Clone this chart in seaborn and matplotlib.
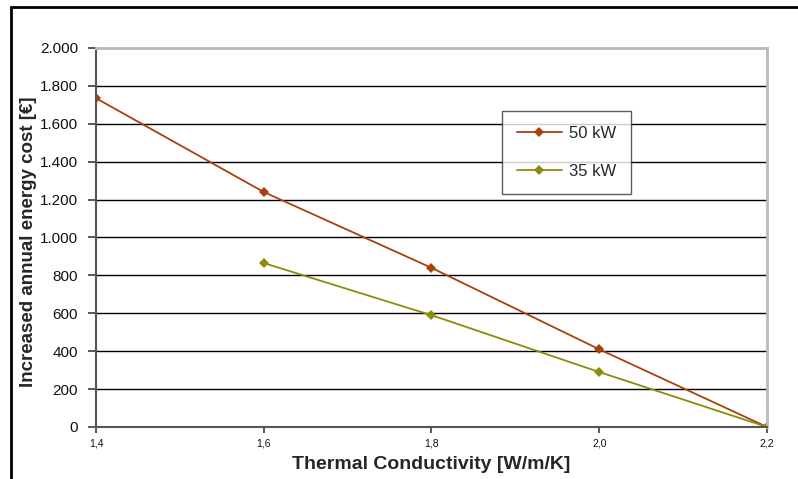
import matplotlib
matplotlib.use("Agg")
import matplotlib.pyplot as plt
import seaborn as sns
import pandas as pd
from matplotlib.patches import Rectangle
from matplotlib.ticker import FuncFormatter

conductivity_50 = [1.4, 1.6, 1.8, 2.0, 2.2]
cost_50 = [1735, 1240, 840, 410, 0]
conductivity_35 = [1.6, 1.8, 2.0, 2.2]
cost_35 = [865, 590, 290, 0]
series_names = ["50 kW", "35 kW"]
colors = {"50 kW": "#A8400F", "35 kW": "#8C8C0A"}

df = pd.concat([
    pd.DataFrame({"k": conductivity_50, "cost": cost_50, "series": series_names[0]}),
    pd.DataFrame({"k": conductivity_35, "cost": cost_35, "series": series_names[1]}),
])

sns.set_theme(style="white")
plt.rcParams["font.family"] = ["Liberation Sans", "DejaVu Sans"]

fig = plt.figure(figsize=(7.98, 4.79), dpi=100)
ax = fig.add_axes([0.1203, 0.1086, 0.8408, 0.7912])

sns.lineplot(data=df, x="k", y="cost", hue="series", style="series",
             hue_order=series_names, style_order=series_names,
             palette=colors, markers={"50 kW": "D", "35 kW": "D"},
             dashes=False, markersize=5.5, linewidth=1.3,
             markeredgewidth=0, ax=ax)

ax.set_xlim(1.4, 2.2)
ax.set_ylim(0, 2000)
ax.set_xticks([1.4, 1.6, 1.8, 2.0, 2.2])
ax.set_yticks(range(0, 2001, 200))
ax.xaxis.set_major_formatter(FuncFormatter(lambda v, p: f"{v:.1f}".replace(".", ",")))
ax.yaxis.set_major_formatter(FuncFormatter(lambda v, p: f"{int(v):,}".replace(",", ".")))
ax.tick_params(axis="x", labelsize=7.5, length=4, direction="out", bottom=True, color="#444444", pad=4)
ax.tick_params(axis="y", labelsize=11, length=6, direction="out", left=True, color="#444444", pad=7)
for lab in ax.get_xticklabels() + ax.get_yticklabels():
    lab.set_color("#111111")

ax.yaxis.grid(True, color="black", linewidth=1.0)
ax.xaxis.grid(False)
ax.set_axisbelow(True)

for side in ["left", "bottom"]:
    ax.spines[side].set_color("#555555")
    ax.spines[side].set_linewidth(1.5)
for side in ["top", "right"]:
    ax.spines[side].set_color("#BBBBBB")
    ax.spines[side].set_linewidth(2)

ax.set_xlabel("Thermal Conductivity [W/m/K]", fontsize=14, fontweight="bold", labelpad=6)
ax.set_ylabel("Increased annual energy cost [€]", fontsize=13.5, fontweight="bold")
ax.yaxis.label.set_va("center")
ax.yaxis.set_label_coords(-0.1013, 0.49)

leg = ax.legend(loc="upper left", bbox_to_anchor=(0.605, 0.834), frameon=True,
                fancybox=False, edgecolor="#333333", fontsize=12, handlelength=2.7,
                borderpad=0.9, labelspacing=1.4, handletextpad=0.4, borderaxespad=0)
leg.get_frame().set_linewidth(1.0)
leg.get_frame().set_facecolor("white")

fig.patches.append(Rectangle((0.0138, -0.1), 1.2, 1.0854, transform=fig.transFigure,
                             fill=False, edgecolor="black", linewidth=2, zorder=10))

fig.savefig("out.png", dpi=100)
